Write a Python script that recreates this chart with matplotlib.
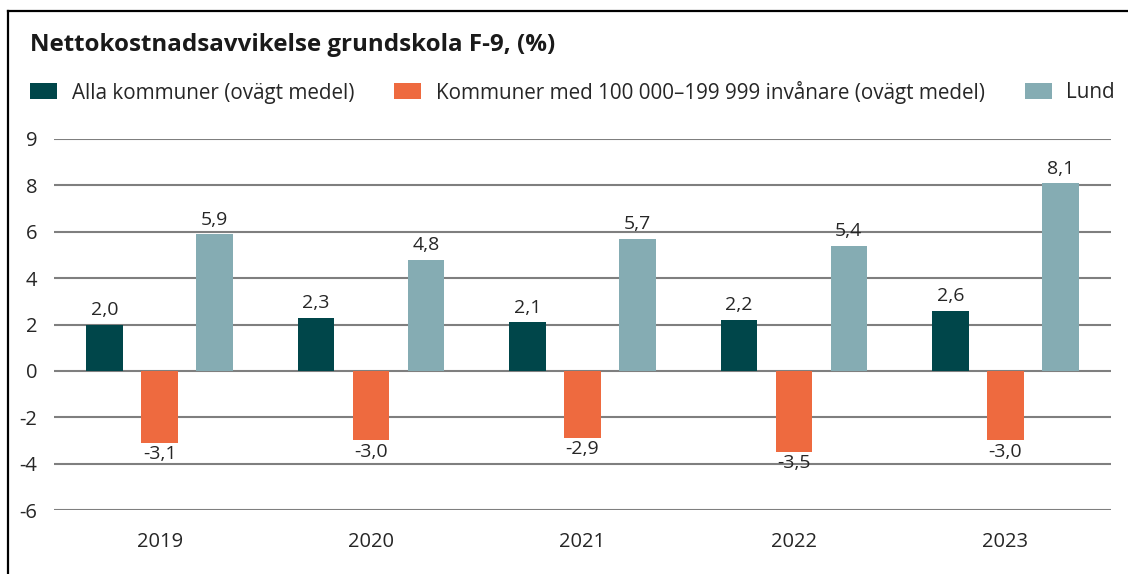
import numpy as np
import matplotlib.pyplot as plt
from matplotlib.lines import Line2D

# chart data
years = ['2019', '2020', '2021', '2022', '2023']
alla = [2.0, 2.3, 2.1, 2.2, 2.6]
storstad = [-3.1, -3.0, -2.9, -3.5, -3.0]
lund = [5.9, 4.8, 5.7, 5.4, 8.1]
series_names = ['Alla kommuner (ovägt medel)',
                'Kommuner med 100 000\u2013199 999 invånare (ovägt medel)',
                'Lund']
colors = ['#00464A', '#EE6A3F', '#85ACB3']
ytick_vals = [-6, -4, -2, 0, 2, 4, 6, 8, 10]
ytick_labels = ['-6', '-4', '-2', '0', '2', '4', '6', '8', '9']

plt.rcParams['font.family'] = ['Open Sans', 'DejaVu Sans']
text_col = '#262626'

fig = plt.figure(figsize=(11.28, 5.74), dpi=100)
ax = fig.add_axes([54 / 1128, 1 - 510 / 574, (1111 - 54) / 1128, (510 - 139) / 574])

x = np.arange(len(years))
width = 0.173
offset = 0.26
for i, (vals, col, name) in enumerate(zip([alla, storstad, lund], colors, series_names)):
    bars = ax.bar(x + (i - 1) * offset, vals, width, color=col, label=name, zorder=3)
    for b, v in zip(bars, vals):
        lbl = f'{v:.1f}'.replace('.', ',')
        if v >= 0:
            ax.annotate(lbl, (b.get_x() + b.get_width() / 2, v), xytext=(0, 4),
                        textcoords='offset points', ha='center', va='bottom',
                        fontsize=14, color=text_col)
        else:
            ax.annotate(lbl, (b.get_x() + b.get_width() / 2, v), xytext=(0, -1.5),
                        textcoords='offset points', ha='center', va='top',
                        fontsize=14, color=text_col)

ax.set_xlim(-0.5, len(years) - 0.5)
ax.set_ylim(-6, 10)
ax.set_yticks(ytick_vals)
ax.set_yticklabels(ytick_labels)
ax.set_xticks(x)
ax.set_xticklabels(years)
ax.tick_params(axis='both', length=0, labelsize=14.5, colors=text_col)
ax.tick_params(axis='y', pad=12)
ax.tick_params(axis='x', pad=16)
ax.yaxis.grid(True, color='#7f7f7f', linewidth=1.5, zorder=0)
for s in ax.spines.values():
    s.set_visible(False)

fig.text(30 / 1128, 1 - 45 / 574, 'Nettokostnadsavvikelse grundskola F-9, (%)',
         fontsize=17.4, fontweight='bold', color='#1a1a1a', va='center', ha='left')

fig.legend(loc='center left', bbox_to_anchor=(22 / 1128, 1 - 92 / 574), ncol=3,
           frameon=False, fontsize=14.9, labelcolor=text_col,
           handlelength=1.3, handleheight=0.8, handletextpad=0.7,
           columnspacing=1.95, borderaxespad=0)

# frame around chart (top and left visible)
fig.add_artist(Line2D([8 / 1128, 8 / 1128], [0, 1 - 11 / 574], color='black', linewidth=1.6))
fig.add_artist(Line2D([8 / 1128, 1], [1 - 11 / 574, 1 - 11 / 574], color='black', linewidth=1.6))

fig.savefig('out.png', dpi=100)
